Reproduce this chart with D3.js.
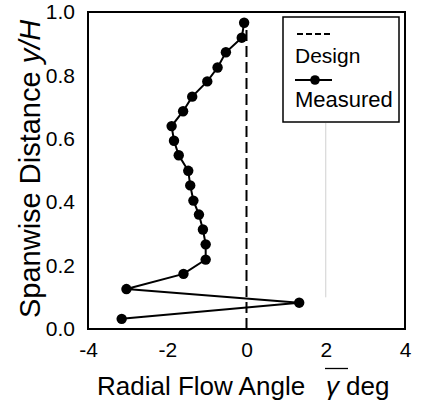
<!DOCTYPE html>
<html>
<head>
<meta charset="utf-8">
<script src="https://cdn.jsdelivr.net/npm/d3@7"></script>
<style>
  html, body { margin: 0; padding: 0; background: #fff; }
  svg { display: block; font-family: "Liberation Sans", Arial, Helvetica, sans-serif; }
</style>
</head>
<body>
<svg id="chart" width="421" height="406"></svg>
<script>
// Measured radial flow angle (deg) versus spanwise position y/H
const spanwise = [0.966, 0.919, 0.873, 0.825, 0.781, 0.733, 0.687, 0.640, 0.594, 0.548,
                  0.499, 0.453, 0.405, 0.361, 0.314, 0.267, 0.219, 0.174, 0.126, 0.083, 0.032];
const measuredAngle = [-0.06, -0.12, -0.52, -0.73, -0.99, -1.37, -1.60, -1.89, -1.83, -1.71,
                       -1.47, -1.42, -1.34, -1.20, -1.10, -1.03, -1.03, -1.59, -3.03, 1.33, -3.15];
// Design angle is zero across the span
const designAngle = [0, 0];
const designSpan = [0, 0.955];

const xTicks = [-4, -2, 0, 2, 4];
const yTicks = [0.0, 0.2, 0.4, 0.6, 0.8, 1.0];

const svg = d3.select("#chart");
const plotL = 88, plotR = 405, plotT = 12, plotB = 329;
const FONT = "Liberation Sans, Arial, Helvetica, sans-serif";

const x = d3.scaleLinear().domain([-4, 4]).range([plotL, plotR]);
const y = d3.scaleLinear().domain([0, 1]).range([plotB, plotT]);

// faint reference line at +2 deg
svg.append("line")
  .attr("x1", x(2)).attr("x2", x(2))
  .attr("y1", y(0.1)).attr("y2", y(0.65))
  .attr("stroke", "#c4c4c4").attr("stroke-width", 0.8);

// design line (dashed, at 0 deg)
svg.append("path")
  .datum(designSpan.map((s, i) => [designAngle[i], s]))
  .attr("d", d3.line().x(d => x(d[0])).y(d => y(d[1])))
  .attr("fill", "none").attr("stroke", "#000").attr("stroke-width", 2)
  .attr("stroke-dasharray", "11,5");

// measured profile
const pts = spanwise.map((s, i) => [measuredAngle[i], s]);
svg.append("path")
  .datum(pts)
  .attr("d", d3.line().x(d => x(d[0])).y(d => y(d[1])))
  .attr("fill", "none").attr("stroke", "#000").attr("stroke-width", 2);
svg.selectAll("circle.m")
  .data(pts).enter().append("circle")
  .attr("class", "m")
  .attr("cx", d => x(d[0])).attr("cy", d => y(d[1]))
  .attr("r", 5.2).attr("fill", "#000");

// plot frame
svg.append("rect")
  .attr("x", plotL).attr("y", plotT)
  .attr("width", plotR - plotL).attr("height", plotB - plotT)
  .attr("fill", "none").attr("stroke", "#000").attr("stroke-width", 2);

// axes (labels only, the frame provides the lines)
const xAxis = d3.axisBottom(x).tickValues(xTicks).tickFormat(d => String(d)).tickSize(0).tickPadding(13);
const gx = svg.append("g").attr("transform", `translate(0,${plotB})`).call(xAxis);
gx.select(".domain").remove();
gx.attr("font-size", 21).attr("font-family", FONT);
gx.selectAll("text").attr("fill", "#000");

const yAxis = d3.axisLeft(y).tickValues(yTicks).tickFormat(d3.format(".1f")).tickSize(0).tickPadding(13);
const gy = svg.append("g").attr("transform", `translate(${plotL},0)`).call(yAxis);
gy.select(".domain").remove();
gy.attr("font-size", 21).attr("font-family", FONT);
gy.selectAll("text").attr("fill", "#000");

// x axis title
const xt = svg.append("text")
  .attr("y", 395)
  .attr("font-size", 26).attr("fill", "#000");
xt.append("tspan").attr("x", 97).text("Radial Flow Angle");
xt.append("tspan").attr("x", 326).attr("font-style", "italic").text("γ");
xt.append("tspan").attr("x", 346).text("deg");

// overline above gamma
svg.append("line")
  .attr("x1", 325).attr("x2", 348)
  .attr("y1", 368.5).attr("y2", 368.5)
  .attr("stroke", "#000").attr("stroke-width", 1.3);

// y axis title
const yt = svg.append("text")
  .attr("transform", "translate(40,318) rotate(-90)")
  .attr("font-size", 29).attr("fill", "#000");
yt.append("tspan").text("Spanwise Distance  ");
yt.append("tspan").attr("font-style", "italic").text("y/H");

// legend
const lg = svg.append("g");
lg.append("rect")
  .attr("x", 283).attr("y", 17).attr("width", 116).attr("height", 105)
  .attr("fill", "#fff").attr("stroke", "#000").attr("stroke-width", 1.5);
lg.append("line")
  .attr("x1", 297).attr("x2", 332).attr("y1", 34).attr("y2", 34)
  .attr("stroke", "#000").attr("stroke-width", 2).attr("stroke-dasharray", "6,3");
lg.append("text").attr("x", 295).attr("y", 63).attr("font-size", 21).attr("fill", "#000").text("Design");
lg.append("line")
  .attr("x1", 295).attr("x2", 332).attr("y1", 80).attr("y2", 80)
  .attr("stroke", "#000").attr("stroke-width", 2);
lg.append("circle").attr("cx", 315).attr("cy", 80).attr("r", 4.8).attr("fill", "#000");
lg.append("text").attr("x", 295).attr("y", 107).attr("font-size", 22).attr("fill", "#000").text("Measured");
</script>
</body>
</html>
